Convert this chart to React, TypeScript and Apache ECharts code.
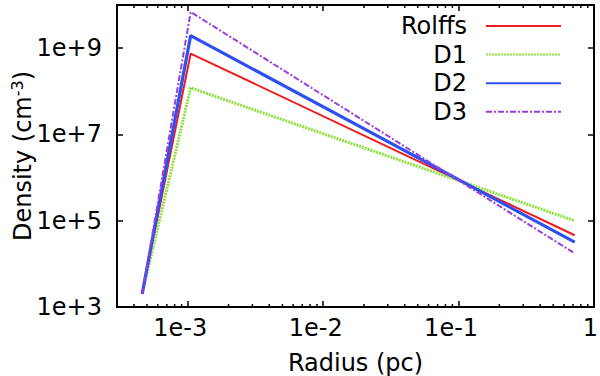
import React, { useEffect, useRef } from "react";
import * as echarts from "echarts";

const radius = [4.6e-4, 1.05e-3, 0.72];
const rolffs = [2e3, 7.5e8, 4.6e4];
const d1 = [2e3, 1.2e8, 1.0e5];
const d2 = [2e3, 1.95e9, 3.2e4];
const d3 = [2e3, 6.9e9, 1.75e4];

const seriesNames = ["Rolffs", "D1", "D2", "D3"];
const minorXTicks = [
  4e-4, 5e-4, 6e-4, 7e-4, 8e-4, 9e-4,
  2e-3, 3e-3, 4e-3, 5e-3, 6e-3, 7e-3, 8e-3, 9e-3,
  2e-2, 3e-2, 4e-2, 5e-2, 6e-2, 7e-2, 8e-2, 9e-2,
  2e-1, 3e-1, 4e-1, 5e-1, 6e-1, 7e-1, 8e-1, 9e-1,
];

const FONT = "DejaVu Sans";

function fmtExp(v: number) {
  const e = Math.round(Math.log10(v));
  if (e === 0) return "1";
  return "1e" + (e > 0 ? "+" : "") + e;
}

export default function App() {
  const ref = useRef<HTMLDivElement>(null);
  useEffect(() => {
    if (!ref.current) return;
    const chart = echarts.init(ref.current, undefined, { renderer: "svg" });
    const pts = (ys: number[]) => radius.map((x, i) => [x, ys[i]]);
    const tickStyle = { color: "#000", width: 1.5 };
    const option: any = {
      animation: false,
      textStyle: { fontFamily: FONT, color: "#000" },
      grid: {
        left: 117,
        top: 5,
        right: 6,
        bottom: 69,
        show: true,
        borderColor: "#000",
        borderWidth: 2,
        containLabel: false,
        outerBoundsMode: "none",
      },
      legend: {
        data: seriesNames,
        orient: "vertical",
        align: "right",
        right: 33,
        top: 9,
        itemWidth: 75,
        itemHeight: 14,
        itemGap: 4.6,
        itemStyle: { opacity: 0, borderWidth: 0 },
        textStyle: {
          fontFamily: FONT,
          fontSize: 24,
          color: "#000",
          lineHeight: 24,
          padding: [0, 14, 0, 0],
        },
      },
      xAxis: [
        {
          type: "log",
          logBase: 10,
          min: 3e-4,
          max: 1,
          gridIndex: 0,
          position: "bottom",
          axisLine: { show: false },
          axisTick: { show: true, inside: true, length: 6, lineStyle: tickStyle },
          splitLine: { show: false },
          axisLabel: {
            showMinLabel: false,
            fontFamily: FONT,
            fontSize: 24,
            color: "#000",
            margin: 9,
            formatter: (v: number) => {
              const s = fmtExp(v);
              return s === "1" ? "{b|" + s + "}" : "{a|" + s + "}";
            },
            rich: {
              a: { fontFamily: FONT, fontSize: 24, color: "#000", padding: [0, 15, 0, 0] },
              b: { fontFamily: FONT, fontSize: 24, color: "#000", padding: [0, 7, 0, 0] },
            },
          },
          name: "Radius (pc)",
          nameLocation: "middle",
          nameGap: 44,
          nameMoveOverlap: false,
          nameTextStyle: {
            fontFamily: FONT,
            fontSize: 24,
            lineHeight: 24,
            color: "#000",
            verticalAlign: "top",
          },
        },
        {
          type: "log",
          logBase: 10,
          min: 3e-4,
          max: 1,
          gridIndex: 0,
          position: "top",
          axisLine: { show: false },
          axisTick: { show: true, inside: true, length: 6, lineStyle: tickStyle },
          splitLine: { show: false },
          axisLabel: { show: false },
        },
      ],
      yAxis: [
        {
          type: "log",
          logBase: 10,
          min: 1e3,
          max: 1e10,
          interval: 2,
          gridIndex: 0,
          position: "left",
          axisLine: { show: false },
          axisTick: { show: true, inside: true, length: 6, lineStyle: tickStyle },
          splitLine: { show: false },
          axisLabel: {
            showMaxLabel: false,
            fontFamily: FONT,
            fontSize: 24,
            color: "#000",
            margin: 15,
            formatter: (v: number) => fmtExp(v),
          },
          name: "Density (cm{sup|-3})",
          nameLocation: "middle",
          nameGap: 80,
          nameMoveOverlap: false,
          nameRotate: 90,
          nameTextStyle: {
            fontFamily: FONT,
            fontSize: 24,
            color: "#000",
            lineHeight: 28,
            rich: {
              sup: { fontFamily: FONT, fontSize: 16, lineHeight: 16, verticalAlign: "top", color: "#000" },
            },
          },
        },
        {
          type: "log",
          logBase: 10,
          min: 1e3,
          max: 1e10,
          interval: 2,
          gridIndex: 0,
          position: "right",
          axisLine: { show: false },
          axisTick: { show: true, inside: true, length: 6, lineStyle: tickStyle },
          splitLine: { show: false },
          axisLabel: { show: false },
        },
      ],
      series: [
        {
          name: "Rolffs",
          type: "line",
          symbol: "none",
          data: pts(rolffs),
          color: "#ee1c1c",
          lineStyle: { color: "#ee1c1c", width: 2, type: "solid" },
          z: 3,
        },
        {
          name: "D1",
          type: "line",
          symbol: "none",
          data: pts(d1),
          color: "#8fe040",
          lineStyle: { color: "#8fe040", width: 3, type: [2, 1] },
          z: 4,
        },
        {
          name: "D2",
          type: "line",
          symbol: "none",
          data: pts(d2),
          color: "#2f50f0",
          lineStyle: { color: "#2f50f0", width: 3.2, type: "solid" },
          z: 5,
        },
        {
          name: "D3",
          type: "line",
          symbol: "none",
          data: pts(d3),
          color: "#9a3ee0",
          lineStyle: { color: "#9a3ee0", width: 2, type: [6, 2, 2, 2] },
          z: 6,
        },
        {
          name: "minorTicks",
          type: "custom",
          xAxisIndex: 0,
          yAxisIndex: 0,
          silent: true,
          data: minorXTicks.map((v) => [v, 1e3]),
          renderItem: (params: any, api: any) => {
            const x = api.coord([api.value(0), 1e3])[0];
            const cs = params.coordSys;
            const st = { stroke: "#000", lineWidth: 1.5 };
            return {
              type: "group",
              children: [
                { type: "line", shape: { x1: x, y1: cs.y + cs.height, x2: x, y2: cs.y + cs.height - 3 }, style: st },
                { type: "line", shape: { x1: x, y1: cs.y, x2: x, y2: cs.y + 3 }, style: st },
              ],
            };
          },
          z: 10,
        },
      ],
    };
    chart.setOption(option);
    return () => chart.dispose();
  }, []);
  return (
    <div
      ref={ref}
      style={{ position: "fixed", left: 0, top: 0, width: 600, height: 376, background: "#fff" }}
    />
  );
}
